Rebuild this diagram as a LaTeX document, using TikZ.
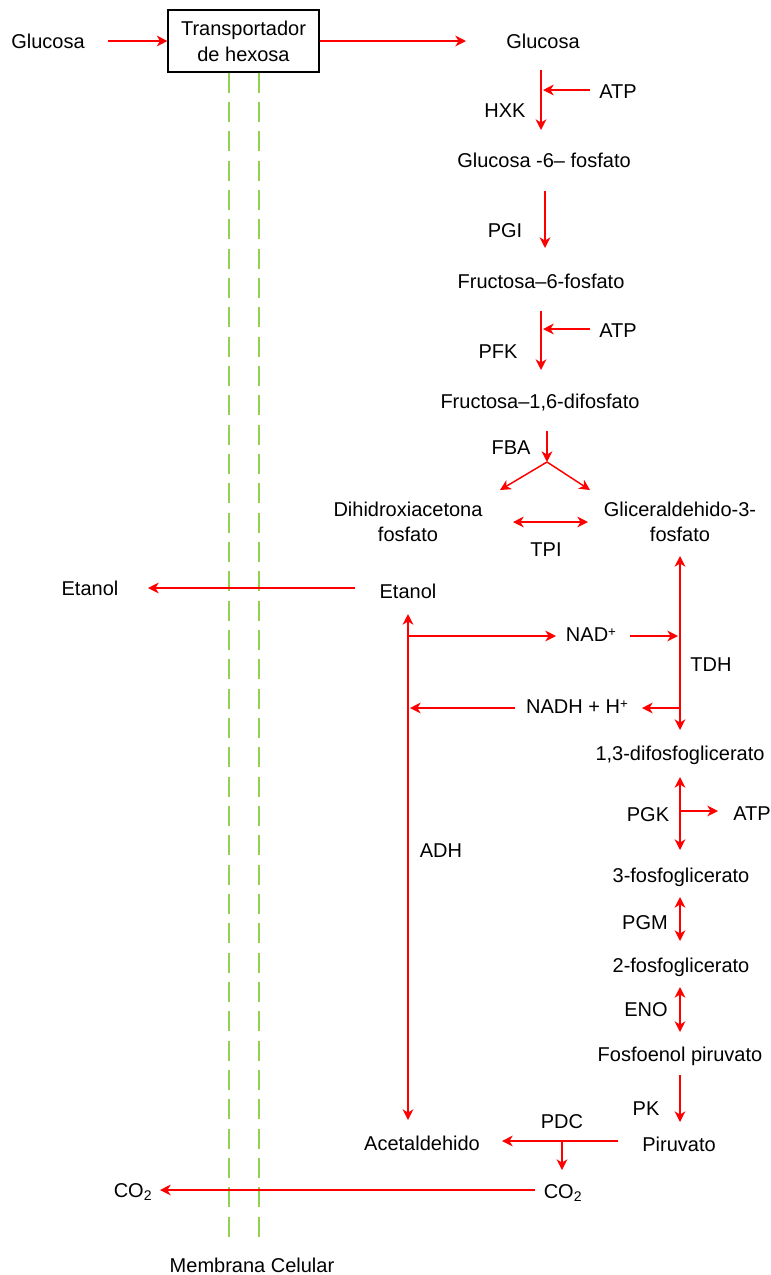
\documentclass[tikz,border=0pt]{standalone}
\usepackage{fontspec}
\setmainfont{Liberation Sans}
\usetikzlibrary{arrows.meta,calc}
\definecolor{membgreen}{RGB}{146,208,80}
\newcommand{\supplus}{\raisebox{0.45ex}{\fontsize{10}{10}\selectfont +}}
\begin{document}
\begin{tikzpicture}[x=0.75pt,y=-0.75pt,
  t/.style={font=\fontsize{15}{18.75}\selectfont, inner sep=0pt, anchor=base},
  t2/.style={font=\fontsize{15}{18.75}\selectfont, inner sep=0pt, align=center, anchor=center},
  tip/.tip={Stealth[length=8pt,width=8pt,inset=2.4pt]},
  rline/.style={draw=red, line width=1.1pt},
  rx/.style={rline, -tip},
  rxx/.style={rline, tip-tip},
  memb/.style={draw=membgreen, line width=2pt, dash pattern=on 15pt off 7pt}]
\useasboundingbox (0,0) rectangle (771,1275);

% nodes
\node[t] (glcout) at (48,48) {Glucosa};
\node[draw, line width=0.8pt, minimum width=113.25pt, minimum height=46.5pt, inner sep=0pt,
      align=center, font=\fontsize{15}{19.5}\selectfont] (transp) at (243.5,41) {Transportador\\de hexosa};
\node[t] (glc) at (543,48) {Glucosa};
\node[t] (atp1) at (618,98) {ATP};
\node[t] (hxk) at (505,117) {HXK};
\node[t] (g6p) at (544,167) {Glucosa -6– fosfato};
\node[t] (pgi) at (505,237) {PGI};
\node[t] (f6p) at (541,288) {Fructosa–6-fosfato};
\node[t] (atp2) at (618,337) {ATP};
\node[t] (pfk) at (498,358) {PFK};
\node[t] (f16) at (540,408) {Fructosa–1,6-difosfato};
\node[t] (fba) at (511,454) {FBA};
\node[t2] (dhap) at (408,521.5) {Dihidroxiacetona\\fosfato};
\node[t2] (gap) at (680,521.5) {Gliceraldehido-3-\\fosfato};
\node[t] (tpi) at (546,556) {TPI};
\node[t] (etin) at (408,598) {Etanol};
\node[t] (etout) at (90,595) {Etanol};
\node[t] (nad) at (591,641) {NAD\supplus};
\node[t] (nadh) at (577,713) {NADH + H\supplus};
\node[t] (tdh) at (711,671) {TDH};
\node[t] (adh) at (441,857) {ADH};
\node[t] (bpg) at (680,760) {1,3-difosfoglicerato};
\node[t] (pgk) at (648,821) {PGK};
\node[t] (atp3) at (752,820) {ATP};
\node[t] (pg3) at (681,882) {3-fosfoglicerato};
\node[t] (pgm) at (645,929) {PGM};
\node[t] (pg2) at (681,972) {2-fosfoglicerato};
\node[t] (eno) at (646,1016) {ENO};
\node[t] (pep) at (680,1061) {Fosfoenol piruvato};
\node[t] (pk) at (646,1115) {PK};
\node[t] (pyr) at (679,1151) {Piruvato};
\node[t] (acet) at (422,1150) {Acetaldehido};
\node[t] (pdc) at (562,1128) {PDC};
\node[t] (co2in) at (563,1198) {CO\textsubscript{2}};
\node[t] (co2out) at (133,1197) {CO\textsubscript{2}};
\node[t] (memb) at (252,1272) {Membrana Celular};

% membrane
\draw[memb] ($(transp.south)+(-14.5,0)$) -- ($(memb.base)+(-23,-27)$);
\draw[memb] ($(transp.south)+(15.5,0)$) -- ($(memb.base)+(7,-27)$);

% transport
\draw[rx] ($(glcout.base)+(60,-7)$) -- (transp.west);
\draw[rx] (transp.east) -- ($(glc.base)+(-77,-7)$);

% glycolysis upper
\draw[rx] ($(glc.base)+(-2,22)$) -- ($(g6p.base)+(-3,-37)$);
\draw[rx] ($(atp1.base)+(-28,-8)$) -- ($(g6p.base)+(-1,-77)$);
\draw[rx] ($(g6p.base)+(1,24)$) -- ($(f6p.base)+(4,-40)$);
\draw[rx] ($(f6p.base)+(0,23)$) -- ($(f16.base)+(1,-38)$);
\draw[rx] ($(atp2.base)+(-28,-8)$) -- ($(f16.base)+(3,-79)$);
\coordinate (split) at ($(f16.base)+(7,54)$);
\draw[rx] ($(f16.base)+(7,23)$) -- (split);
\draw[rx] (split) -- ($(dhap.center)+(92,-31.5)$);
\draw[rx] (split) -- ($(gap.center)+(-90,-31.5)$);
\draw[rxx] ($(dhap.center)+(105,0.5)$) -- ($(gap.center)+(-92,0.5)$);

% TDH
\draw[rxx] ($(gap.center)+(0,34.5)$) -- ($(bpg.base)+(0,-30)$);
\draw[rx] ($(nad.base)+(39,-5)$) -- ($(nad.base)+(87,-5)$);
\draw[rx] ($(nadh.base)+(103,-5)$) -- ($(nadh.base)+(65,-5)$);

% ethanol / ADH
\draw[rx] ($(etin.base)+(-53,-10)$) -- ($(etout.base)+(58,-7)$);
\draw[rxx] ($(etin.base)+(0,16)$) -- ($(acet.base)+(-14,-30)$);
\draw[rx] ($(etin.base)+(0,38)$) -- ($(nad.base)+(-35,-5)$);
\draw[rx] ($(nadh.base)+(-62,-5)$) -- ($(nadh.base)+(-167,-5)$);

% glycolysis lower
\draw[rxx] ($(bpg.base)+(0,17)$) -- ($(pg3.base)+(-1,-32)$);
\draw[rx] ($(atp3.base)+(-72,-9)$) -- ($(atp3.base)+(-34,-9)$);
\draw[rxx] ($(pg3.base)+(-1,15)$) -- ($(pg2.base)+(-1,-31)$);
\draw[rxx] ($(pg2.base)+(-1,15)$) -- ($(pep.base)+(0,-29)$);
\draw[rx] ($(pep.base)+(0,14)$) -- ($(pyr.base)+(1,-29)$);

% PDC
\draw[rx] ($(pyr.base)+(-61,-10)$) -- ($(acet.base)+(80,-9)$);
\draw[rx] ($(co2in.base)+(-1,-57)$) -- ($(co2in.base)+(-1,-28)$);
\draw[rx] ($(co2in.base)+(-28,-8)$) -- ($(co2out.base)+(27,-7)$);
\end{tikzpicture}
\end{document}
